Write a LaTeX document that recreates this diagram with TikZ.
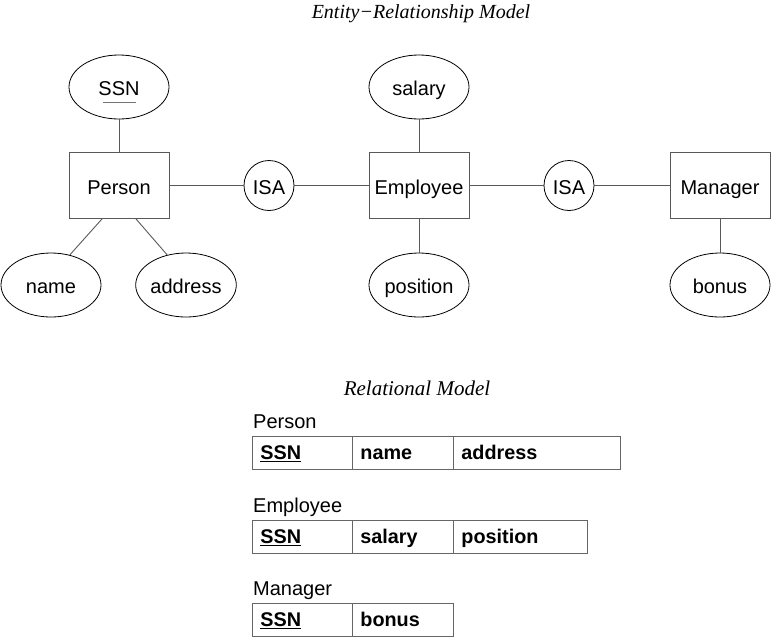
\documentclass[tikz,border=0pt]{standalone}
\usepackage{fontspec}
\setmainfont{Liberation Serif}
\setsansfont{Liberation Sans}
\usetikzlibrary{shapes.geometric,calc}
\begin{document}
\begin{tikzpicture}[x=1pt,y=-1pt,
  sf/.style={font=\sffamily\fontsize{20}{23}\selectfont, text height=17pt, text depth=0pt},
  conn/.style={draw=black!65, line width=0.9pt},
  ent/.style={sf, rectangle, draw=black!65, line width=0.9pt, minimum width=100pt, minimum height=66pt, inner sep=0pt},
  attr/.style={sf, ellipse, draw=black, line width=0.8pt, minimum width=100pt, minimum height=64pt, inner sep=0pt},
  isa/.style={sf, circle, draw=black, line width=0.8pt, minimum size=50pt, inner sep=0pt},
  ttl/.style={font=\itshape\fontsize{20}{22}\selectfont, inner sep=0pt},
  lbl/.style={font=\sffamily\fontsize{20}{23}\selectfont, anchor=base west, inner sep=0pt},
  cell/.style={font=\sffamily\bfseries\fontsize{19.8}{22}\selectfont, rectangle, draw=black!60, line width=0.9pt,
    anchor=north west, minimum height=33pt, inner ysep=0pt, inner xsep=8pt, align=left,
    text height=14pt, text depth=1pt}
]
\useasboundingbox (0,0) rectangle (772,638);

% titles
\node[ttl] (t1) at (421,13.5) {Entity−Relationship Model};
\node[ttl, font=\itshape\fontsize{21}{23}\selectfont] (t2) at (417,388) {Relational Model};

% ER diagram
\node[ent] (P) at (119,185.5) {Person};
\node[ent] (E) at (419,185.5) {Employee};
\node[ent] (M) at (720,185.5) {Manager};
\node[isa] (i1) at (269,185.5) {ISA};
\node[isa] (i2) at (569,185.5) {ISA};
\node[attr] (ssn) at (119,87) {SSN};
\node[attr] (sal) at (419,87) {salary};
\node[attr] (name) at (51,285) {name};
\node[attr] (addr) at (186,285) {address};
\node[attr] (pos) at (419,285) {position};
\node[attr] (bon) at (720,285) {bonus};
\draw[black!55, line width=0.9pt] ($(ssn.center)+(-16,15)$) -- ($(ssn.center)+(17,15)$);

\draw[conn] (ssn) -- (P);
\draw[conn] (P) -- (i1);
\draw[conn] (i1) -- (E);
\draw[conn] (E) -- (i2);
\draw[conn] (i2) -- (M);
\draw[conn] (sal) -- (E);
\draw[conn] (E) -- (pos);
\draw[conn] (M) -- (bon);
\draw[conn] ($(P.south)+(-17,0)$) -- (name.58);
\draw[conn] ($(P.south)+(17,0)$) -- (addr.122);

% relational model
\node[lbl] (lp) at (253,428) {Person};
\node[cell, text width=84pt] (p1) at (252,436) {\underline{SSN}};
\node[cell, text width=85pt] (p2) at (352,436) {name};
\node[cell, text width=151pt] (p3) at (453,436) {address};

\node[lbl] (le) at (253,512) {Employee};
\node[cell, text width=84pt] (e1) at (252,520) {\underline{SSN}};
\node[cell, text width=85pt] (e2) at (352,520) {salary};
\node[cell, text width=118pt] (e3) at (453,520) {position};

\node[lbl] (lm) at (253,595) {Manager};
\node[cell, text width=84pt] (m1) at (252,603) {\underline{SSN}};
\node[cell, text width=85pt] (m2) at (352,603) {bonus};
\end{tikzpicture}
\end{document}
